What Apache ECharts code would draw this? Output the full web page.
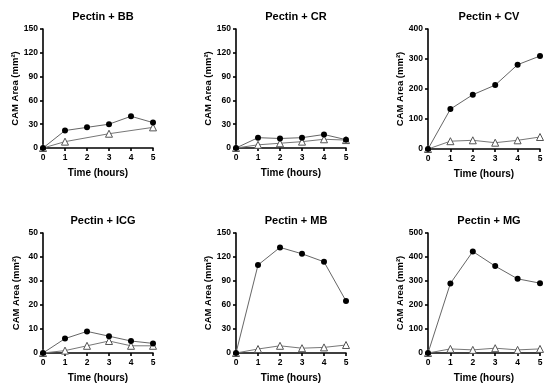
<!DOCTYPE html>
<html>
<head>
<meta charset="utf-8">
<script src="https://cdn.jsdelivr.net/npm/echarts@6/dist/echarts.min.js"></script>
<style>
html,body{margin:0;padding:0;background:#fff;}
#chart{width:550px;height:385px;}
</style>
</head>
<body>
<div id="chart"></div>
<script>
var hours = [0, 1, 2, 3, 4, 5];
var titles = ['Pectin + BB', 'Pectin + CR', 'Pectin + CV', 'Pectin + ICG', 'Pectin + MB', 'Pectin + MG'];
var yMax = [150, 150, 400, 50, 150, 500];
var yInterval = [30, 30, 100, 10, 30, 100];
var filledBB = [0, 22, 26, 30, 40, 32];
var openBB = [0, 8, null, 18, null, 26];
var filledCR = [0, 13, 12, 13, 17, 10.5];
var openCR = [0, 4, 6, 8, 11, 10];
var filledCV = [0, 133, 181, 213, 281, 310];
var openCV = [0, 26, 29, 21, 29, 40];
var filledICG = [0, 6, 9, 7, 5, 4];
var openICG = [0, 1, 3, 5, 3, 3];
var filledMB = [0, 110, 132, 124, 114, 65];
var openMB = [0, 5, 9, 6, 7, 10];
var filledMG = [0, 290, 423, 362, 309, 291];
var openMG = [0, 17, 13, 20, 13, 17];

var filledAll = [filledBB, filledCR, filledCV, filledICG, filledMB, filledMG];
var openAll = [openBB, openCR, openCV, openICG, openMB, openMG];

var FONT = 'Liberation Sans';
var grids = [
  {left: 43, top: 29, width: 110, height: 119},
  {left: 236, top: 29, width: 110, height: 119},
  {left: 428, top: 29, width: 112, height: 120},
  {left: 43, top: 233, width: 110, height: 120},
  {left: 236, top: 233, width: 110, height: 120},
  {left: 428, top: 233, width: 112, height: 120}
];

function pairs(vals) {
  return hours.map(function (h, i) { return [h, vals[i]]; });
}

var option = {
  animation: false,
  backgroundColor: '#fff',
  title: [],
  grid: [],
  xAxis: [],
  yAxis: [],
  series: []
};

var axisLineStyle = {show: true, lineStyle: {color: '#000', width: 1.6}};
var tickStyle = {show: true, length: 3, inside: false, lineStyle: {color: '#000', width: 1.6}};

grids.forEach(function (g, i) {
  option.grid.push({left: g.left, top: g.top, width: g.width, height: g.height, containLabel: false});
  option.title.push({
    text: titles[i],
    left: g.left + g.width / 2,
    top: g.top - 23,
    textAlign: 'center',
    textStyle: {fontFamily: FONT, fontWeight: 'bold', fontSize: 11, color: '#000'}
  });
  option.xAxis.push({
    type: 'value', gridIndex: i, min: 0, max: 5, interval: 1,
    name: 'Time (hours)', nameLocation: 'middle', nameGap: 20,
    nameTextStyle: {fontFamily: FONT, fontWeight: 'bold', fontSize: 10, color: '#000'},
    axisLine: axisLineStyle, axisTick: tickStyle,
    axisLabel: {fontFamily: FONT, fontWeight: 'bold', fontSize: 8.5, color: '#000', margin: 5},
    splitLine: {show: false}
  });
  option.yAxis.push({
    type: 'value', gridIndex: i, min: 0, max: yMax[i], interval: yInterval[i],
    name: 'CAM Area (mm²)', nameLocation: 'middle', nameGap: 22, nameRotate: 90,
    nameTextStyle: {fontFamily: FONT, fontWeight: 'bold', fontSize: 9.5, color: '#000'},
    axisLine: axisLineStyle, axisTick: tickStyle,
    axisLabel: {fontFamily: FONT, fontWeight: 'bold', fontSize: 8.5, color: '#000', margin: 5},
    splitLine: {show: false}
  });
  option.series.push({
    type: 'line', xAxisIndex: i, yAxisIndex: i,
    data: pairs(openAll[i]), connectNulls: true,
    symbol: 'triangle', symbolSize: 7, showSymbol: true, clip: false,
    lineStyle: {color: '#777', width: 1},
    itemStyle: {color: '#fff', borderColor: '#555', borderWidth: 1}
  });
  option.series.push({
    type: 'line', xAxisIndex: i, yAxisIndex: i,
    data: pairs(filledAll[i]),
    symbol: 'circle', symbolSize: 6, showSymbol: true, clip: false,
    lineStyle: {color: '#666', width: 1},
    itemStyle: {color: '#000', borderColor: '#000', borderWidth: 0}
  });
});

var chart = echarts.init(document.getElementById('chart'), null, {renderer: 'canvas'});
chart.setOption(option);
</script>
</body>
</html>
